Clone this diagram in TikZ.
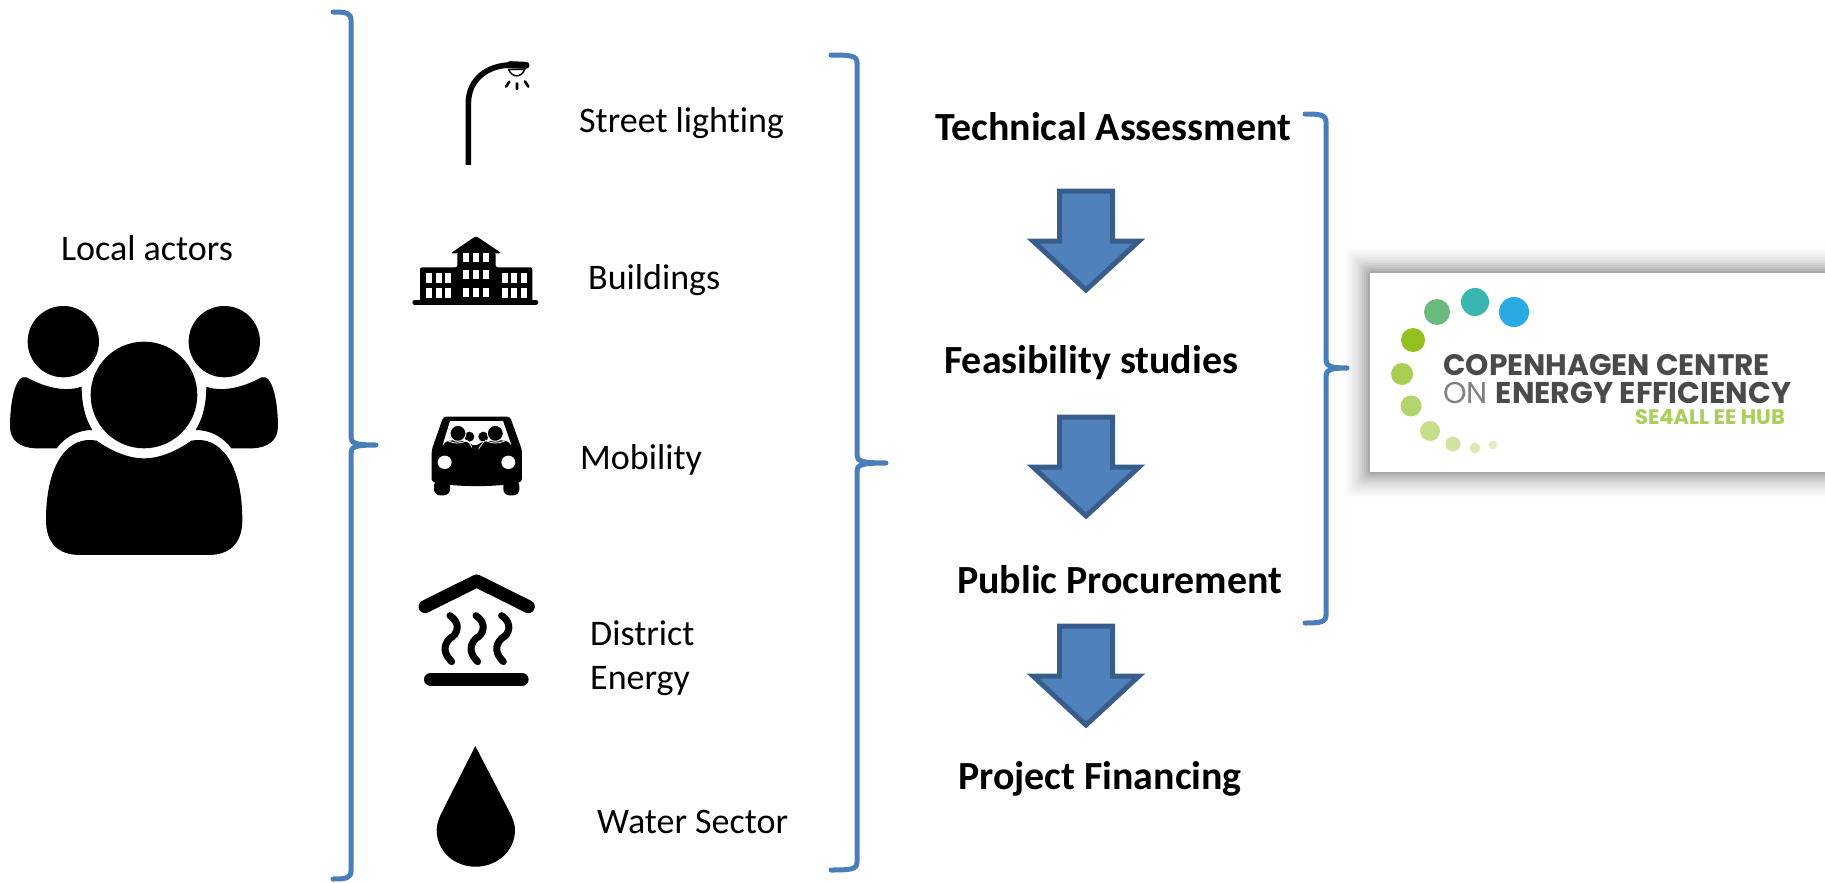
\documentclass[tikz,border=0pt]{standalone}
\usepackage{fontspec}
\setmainfont{Carlito}[Ligatures=NoCommon]
\newfontfamily\logofont{Poppins}
\definecolor{bracecol}{HTML}{4A7EBB}
\definecolor{arrowfill}{HTML}{4F81BD}
\definecolor{arrowedge}{HTML}{385D8A}
\definecolor{logogray}{HTML}{4A4A4A}
\definecolor{logogreen}{HTML}{A8CF5A}
\tikzset{
  bracket/.style={draw=bracecol,line width=5pt,line cap=round,line join=round},
  downarrow/.style={draw=arrowedge,fill=arrowfill,line width=5pt,line join=miter},
  plainlabel/.style={font=\fontsize{36}{42}\selectfont,anchor=base west,inner sep=0pt,align=left},
  boldlabel/.style={font=\fontsize{39.9}{46}\selectfont\bfseries,anchor=base west,inner sep=0pt},
  logotext/.style={anchor=base west,inner sep=0pt,text=logogray},
  zoomA/.style={shift={(400,40)},x=0.3333pt,y=-0.3333pt},
  zoomB/.style={shift={(400,390)},x=0.3333pt,y=-0.3333pt},
  zoomC/.style={shift={(0,290)},x=0.3333pt,y=-0.3333pt},
}
\newcommand{\brk}[6]{% left x, vertical x, top y, mid y, bottom y, tip x
  \draw[bracket] (#1,#3) .. controls ({#2-5},#3) and (#2,{#3+1}) .. (#2,{#3+8})
    -- (#2,{#4-8}) .. controls (#2,{#4-2}) and ({#2+4},#4) .. (#6,#4)
    .. controls ({#2+4},#4) and (#2,{#4+2}) .. (#2,{#4+8})
    -- (#2,{#5-8}) .. controls (#2,{#5-1}) and ({#2-5},#5) .. (#1,#5);}
\newcommand{\darrow}[1]{% top y
  \path[downarrow] (1059.5,#1+2) -- (1112.5,#1+2) -- (1112.5,#1+52) -- (1139,#1+52) -- (1086,#1+101) -- (1033,#1+52) -- (1059.5,#1+52) -- cycle;}
\begin{document}
\begin{tikzpicture}[x=1pt,y=-1pt]
\useasboundingbox (0,0) rectangle (1825,883);
% brackets
\brk{333}{351}{12}{445}{879}{376}
\brk{831}{857}{55}{463}{870}{886}
\brk{1305}{1326}{114}{368}{623}{1347}
% arrows
\darrow{189}
\darrow{415}
\darrow{624}
% people
\begin{scope}[zoomC]
\fill (432,315) circle (160);
\fill (190,155) circle (107);
\fill (673,155) circle (107);
\fill (80,262) .. controls (120,285) and (190,310) .. (245,290) .. controls (245,340) and (255,385) .. (277,420) .. controls (235,420) and (195,440) .. (170,475) -- (110,475) .. controls (60,475) and (30,450) .. (30,410) .. controls (30,340) and (45,250) .. (80,262) -- cycle;
\fill (784,262) .. controls (744,285) and (674,310) .. (619,290) .. controls (619,340) and (609,385) .. (587,420) .. controls (629,420) and (669,440) .. (694,475) -- (754,475) .. controls (804,475) and (834,450) .. (834,410) .. controls (834,340) and (819,250) .. (784,262) -- cycle;
\fill (290,452) .. controls (330,480) and (380,505) .. (432,505) .. controls (484,505) and (534,480) .. (574,452) .. controls (660,435) and (727,520) .. (727,690) .. controls (727,760) and (690,795) .. (625,795) -- (240,795) .. controls (175,795) and (138,760) .. (138,690) .. controls (138,520) and (205,435) .. (290,452) -- cycle;
\end{scope}
% lamp and building
\begin{scope}[zoomA]
\draw[line width=5.6pt] (205,375) -- (205,190) .. controls (205,120) and (260,75) .. (335,75);
\draw[line width=7pt,line cap=round] (330,74) -- (378,76);
\filldraw[fill=white,draw=black,line width=1.5pt] (326,88) .. controls (335,114) and (365,114) .. (374,88) -- cycle;
\draw[line width=2.6pt,line cap=round] (318,140) -- (328,125) (351,130) -- (351,147) (375,124) -- (385,140);
\draw[line width=4.6pt,line cap=round] (44,787) -- (408,787);
\fill[rounded corners=2pt] (60,785) -- (60,682) -- (172,682) -- (172,638) -- (287,638) -- (287,682) -- (397,682) -- (397,785) -- cycle;
\fill[rounded corners=1.5pt] (152,640) -- (228,588) -- (305,640) -- cycle;
\foreach \wx in {78,107,135,305,333,362} \foreach \wy in {700,745}
  \fill[white] (\wx,\wy) rectangle ++(18,30);
\foreach \wx in {190,220,250} \foreach \wy in {638,690,743}
  \fill[white] (\wx,\wy) rectangle ++(17,27);
\end{scope}
% car and heating
\begin{scope}[zoomB]
\fill[rounded corners=3pt] (95,275) -- (95,180) -- (130,80) -- (330,80) -- (366,180) -- (366,275) .. controls (300,292) and (160,292) .. (95,275) -- cycle;
\fill[rounded corners=6pt] (102,270) -- (102,316) -- (150,316) -- (150,270) -- cycle;
\fill[rounded corners=6pt] (310,270) -- (310,316) -- (358,316) -- (358,270) -- cycle;
\fill[white] (150,93) -- (309,93) -- (334,165) -- (128,165) -- cycle;
% passengers behind
\fill (208,140) circle (15);
\fill (250,140) circle (15);
% shoulders
\fill (126,185) -- (131,162) .. controls (140,150) and (160,150) .. (175,152) .. controls (195,152) and (215,160) .. (225,172) .. controls (232,160) and (250,152) .. (287,152) .. controls (305,150) and (322,150) .. (331,162) -- (338,185) -- cycle;
\draw[white,line width=0.8pt] (205,154) -- (216,172) (252,154) -- (236,176);
\draw[white,line width=0.8pt] (143,152) .. controls (165,162) and (185,162) .. (203,150);
\draw[white,line width=0.8pt] (316,152) .. controls (295,162) and (275,162) .. (255,150);
% front heads
\filldraw[draw=white,line width=1pt,fill=black] (174,130) circle (24);
\filldraw[draw=white,line width=1pt,fill=black] (286,130) circle (24);
\fill[white] (134,217) ellipse (21 and 20);
\fill[white] (325,217) ellipse (21 and 20);
\draw[line width=13pt,line cap=round,line join=round] (75,650) -- (230,573) -- (385,650);
\foreach \wx in {0,78,155}
  \draw[line width=7pt,line cap=round] ({150+\wx},677) .. controls ({185+\wx},700) and ({172+\wx},735) .. ({150+\wx},745) .. controls ({125+\wx},770) and ({135+\wx},795) .. ({155+\wx},815);
\draw[line width=13.3pt,line cap=round] (92,868) -- (366,868);
\end{scope}
% drop
\fill (475.3,746) -- (441.5,813) .. controls (438,820) and (436.7,825) .. (436.7,830) .. controls (436.7,851) and (454,866.7) .. (475.5,866.7) .. controls (497,866.7) and (515,851) .. (515,830) .. controls (515,825) and (513.5,820) .. (510,813) -- cycle;
% labels
\node[plainlabel,anchor=base] (localactors) at (147,260) {Local actors};
\node[plainlabel] (street) at (579,132) {Street lighting};
\node[plainlabel] (buildings) at (588,289) {Buildings};
\node[plainlabel] (mobility) at (580,469) {Mobility};
\node[plainlabel] (district) at (590,645) {District};
\node[plainlabel] (energy) at (590,689) {Energy};
\node[plainlabel] (water) at (597,833) {Water Sector};
\node[boldlabel] (technical) at (935,140) {Technical Assessment};
\node[boldlabel] (feasibility) at (944,373) {Feasibility studies};
\node[boldlabel] (procurement) at (957,593) {Public Procurement};
\node[boldlabel] (financing) at (958,789) {Project Financing};
% logo
\foreach \g/\o in {26/0.012,24/0.012,22/0.015,20/0.015,18/0.02,16/0.02,14/0.025,12/0.03,10/0.035,8/0.04,6/0.05,4/0.06,2/0.07}
  \fill[black,opacity=\o,rounded corners=4pt] ({1370-\g},{273-\g}) rectangle (1860,{472+\g});
\fill[white] (1370,273) rectangle (1825,472);
\fill[fill={rgb,255:red,42;green,170;blue,226}] (1514,312) circle (15);
\fill[fill={rgb,255:red,58;green,182;blue,176}] (1475,302) circle (14);
\fill[fill={rgb,255:red,106;green,186;blue,126}] (1437,312) circle (13);
\fill[fill={rgb,255:red,146;green,192;blue,30}] (1413,340) circle (12);
\fill[fill={rgb,255:red,168;green,207;blue,80}] (1402,374) circle (11);
\fill[fill={rgb,255:red,178;green,212;blue,108}] (1411,406) circle (10.5);
\fill[fill={rgb,255:red,196;green,222;blue,138}] (1430,431) circle (10);
\fill[fill={rgb,255:red,208;green,228;blue,160}] (1453,444) circle (7.5);
\fill[fill={rgb,255:red,218;green,234;blue,178}] (1475,448) circle (5.5);
\fill[fill={rgb,255:red,225;green,238;blue,190}] (1493,445) circle (4.5);
\node[logotext,font=\logofont\fontsize{29.6}{32}\selectfont\bfseries] (logoa) at (1443,375) {COPENHAGEN CENTRE};
\node[logotext,font=\logofont\fontsize{30}{32}\selectfont] (logob) at (1443,403) {\textcolor{gray}{ON} \bfseries ENERGY EFFICIENCY};
\node[logotext,font=\logofont\fontsize{21}{24}\selectfont\bfseries,text=logogreen] (logoc) at (1635,424) {SE4ALL EE HUB};
\end{tikzpicture}
\end{document}
